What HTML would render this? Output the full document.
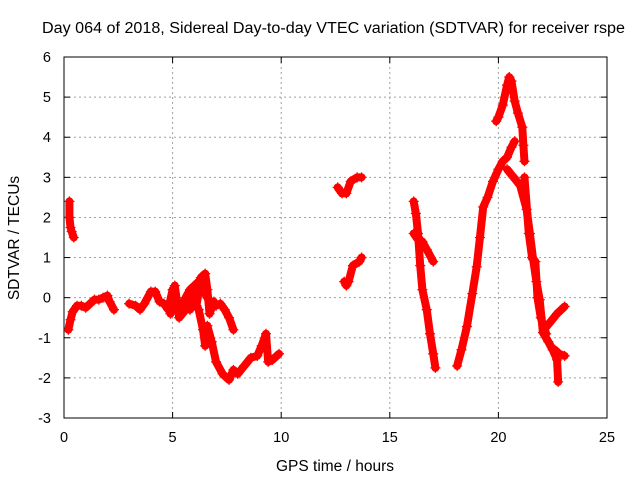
<!DOCTYPE html>
<html><head><meta charset="utf-8"><style>
body{margin:0;background:#fff}
svg{display:block;font-family:"Liberation Sans",sans-serif}
</style></head><body>
<svg id="chart" width="640" height="480">
<text x="42" y="33" font-size="15.5" textLength="583" lengthAdjust="spacingAndGlyphs">Day 064 of 2018, Sidereal Day-to-day VTEC variation (SDTVAR) for receiver rspe</text>
<text x="335" y="471" text-anchor="middle" font-size="15.5">GPS time / hours</text>
<text transform="translate(19,238) rotate(-90)" text-anchor="middle" font-size="15.5">SDTVAR / TECUs</text>
<g id="grid"></g><g id="axes"></g><g id="marks"></g>
</svg>
<script>
const xTicks=[0,5,10,15,20,25];
const yTicks=[-3,-2,-1,0,1,2,3,4,5,6];
const segA=[[0.25,2.4],[0.25,2.0],[0.3,1.75],[0.35,1.65],[0.45,1.5]];
const segB=[[0.2,-0.8],[0.3,-0.55],[0.4,-0.35],[0.6,-0.2],[0.8,-0.2],[1.0,-0.25],[1.2,-0.15],[1.4,-0.05],[1.6,-0.05],[1.8,0.0],[2.0,0.05],[2.1,-0.1],[2.3,-0.3]];
const segC1=[[3.0,-0.15],[3.3,-0.2],[3.5,-0.3],[3.7,-0.15],[4.0,0.15],[4.2,0.15],[4.4,-0.1],[4.6,-0.15],[4.8,-0.3],[5.0,0.2],[5.2,-0.3],[5.4,-0.4],[5.6,0.0],[5.8,0.2],[6.0,0.3],[6.2,0.4],[6.4,0.2],[6.6,0.0],[6.8,-0.2],[7.0,-0.2],[7.2,-0.15],[7.4,-0.3],[7.6,-0.5],[7.8,-0.8]];
const segC2=[[5.5,-0.1],[5.8,-0.3],[6.0,-0.1],[6.2,-0.3],[6.4,-0.8],[6.5,-1.2],[6.6,-0.7],[6.8,-1.1],[7.0,-1.6],[7.3,-1.9],[7.6,-2.05],[7.8,-1.8],[8.0,-1.9],[8.3,-1.7],[8.6,-1.5],[8.9,-1.45],[9.1,-1.2],[9.3,-0.9],[9.4,-1.6],[9.6,-1.55],[9.9,-1.4]];
const segC3=[[4.9,-0.4],[5.1,0.3],[5.3,-0.5],[5.6,-0.3],[5.9,0.1],[6.1,-0.2],[6.3,0.5],[6.5,0.6],[6.6,0.2],[6.7,-0.4],[6.9,-0.1]];
const segD1=[[12.6,2.75],[12.8,2.6],[13.0,2.6],[13.2,2.9],[13.5,3.0],[13.7,3.0]];
const segD2=[[12.9,0.4],[13.0,0.3],[13.1,0.4],[13.3,0.8],[13.6,0.9],[13.7,1.0]];
const segE1=[[16.1,2.4],[16.2,2.1],[16.3,1.6],[16.4,0.8],[16.5,0.2],[16.7,-0.3],[16.85,-0.9],[17.0,-1.4],[17.1,-1.75]];
const segE2=[[16.1,1.6],[16.3,1.45],[16.5,1.4],[16.7,1.2],[17.0,0.9]];
const segF1=[[18.1,-1.7],[18.3,-1.3],[18.55,-0.72],[18.8,0.1],[19.0,0.77],[19.15,1.5],[19.3,2.26],[19.5,2.5],[19.75,2.9],[20.0,3.2],[20.2,3.4],[20.4,3.5],[20.6,3.75],[20.75,3.9]];
const segF2=[[19.9,4.4],[20.0,4.5],[20.2,4.8],[20.4,5.3],[20.5,5.5],[20.6,5.4],[20.75,4.9],[20.9,4.6],[21.1,4.25],[21.15,3.8],[21.2,3.4]];
const segF3=[[20.4,3.2],[20.7,3.0],[21.0,2.8],[21.3,2.2],[21.45,1.6],[21.6,0.95],[21.75,0.4],[21.9,-0.05],[22.05,-0.87],[22.3,-1.1],[22.5,-1.3],[22.7,-1.55],[22.75,-2.1]];
const segF4=[[22.1,-0.8],[22.4,-0.6],[22.7,-0.4],[23.05,-0.22]];
const segF5=[[22.6,-1.3],[22.8,-1.4],[23.05,-1.45]];
const segF6=[[21.2,3.0],[21.4,1.6],[21.55,1.0],[21.7,0.9],[21.8,0.0],[21.95,-0.5],[22.2,-0.9]];
const series=[segA,segB,segC1,segC2,segC3,segD1,segD2,segE1,segE2,segF1,segF2,segF3,segF4,segF5,segF6];
const X0=64,X1=607,Y0=418,Y1=57;
const xs=t=>X0+(t/25)*(X1-X0);
const ys=v=>Y0-((v+3)/9)*(Y0-Y1);
const NS="http://www.w3.org/2000/svg";
function mk(tag,at,parent){const e=document.createElementNS(NS,tag);for(const k in at)e.setAttribute(k,at[k]);parent.appendChild(e);return e;}
const grid=document.getElementById('grid'),axes=document.getElementById('axes'),marks=document.getElementById('marks');
xTicks.forEach(t=>{const x=xs(t);
 if(t>0&&t<25){const g=mk('line',{x1:x,x2:x,y1:Y1,y2:Y0,stroke:'#a0a0a0','stroke-dasharray':'2,3'},grid);
 
 }
 mk('line',{x1:x,x2:x,y1:Y0,y2:Y0-6,stroke:'#000'},axes);
 mk('line',{x1:x,x2:x,y1:Y1,y2:Y1+6,stroke:'#000'},axes);
 const l=mk('text',{x:x,y:Y0+24,'text-anchor':'middle','font-size':14.5},axes);l.textContent=t;
 
 });
yTicks.forEach(v=>{const y=ys(v);
 if(v>-3&&v<6){const g=mk('line',{x1:X0,x2:X1,y1:y,y2:y,stroke:'#a0a0a0','stroke-dasharray':'2,3'},grid);
 
 }
 mk('line',{x1:X0,x2:X0+6,y1:y,y2:y,stroke:'#000'},axes);
 mk('line',{x1:X1,x2:X1-6,y1:y,y2:y,stroke:'#000'},axes);
 const l=mk('text',{x:X0-13,y:y+5,'text-anchor':'end','font-size':14.5},axes);l.textContent=v;
 
 });
const fr=mk('rect',{x:X0,y:Y1,width:X1-X0,height:Y0-Y1,fill:'none',stroke:'#000'},axes);


series.forEach(s=>{
 const pl=mk('polyline',{points:s.map(p=>xs(p[0])+','+ys(p[1])).join(' '),fill:'none',stroke:'#f00','stroke-width':8,'stroke-linejoin':'round','stroke-linecap':'round'},marks);
 
 
 s.forEach(p=>{const x=xs(p[0]),y=ys(p[1]);
  const m=mk('path',{d:`M${x-5},${y}h10M${x},${y-5}v10`,stroke:'#f00','stroke-width':1.3},marks);
  
  });
});
</script>
</body></html>
